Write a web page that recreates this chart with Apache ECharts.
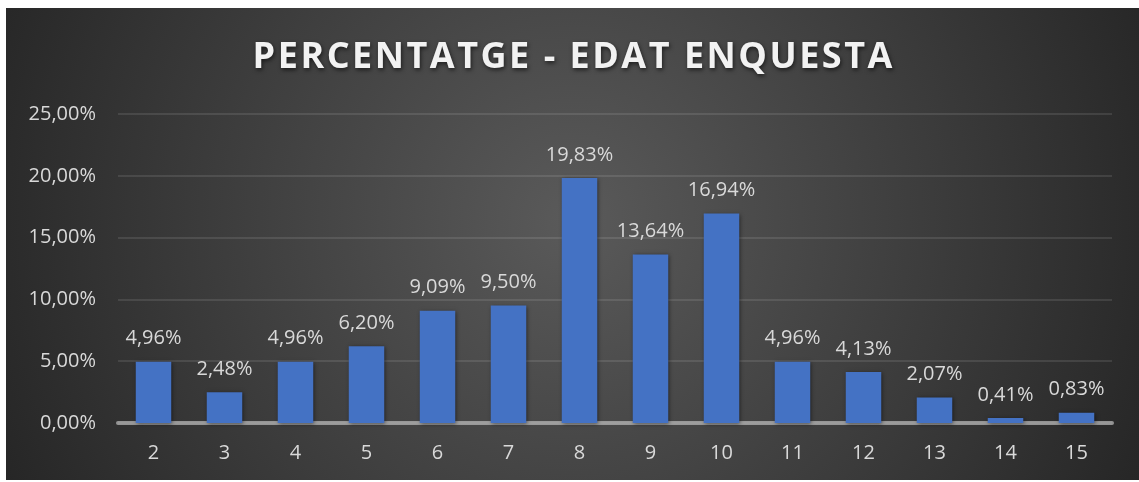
<!DOCTYPE html>
<html>
<head>
<meta charset="utf-8">
<script src="https://cdn.jsdelivr.net/npm/echarts@6/dist/echarts.min.js"></script>
<style>
  html, body { margin: 0; padding: 0; background: #fff; }
  #chart { position: absolute; left: 6px; top: 8px; width: 1133px; height: 472px; }
  #title {
    position: absolute; left: 6px; top: 37px; width: 1133px;
    text-align: center; font-family: 'Open Sans', sans-serif; font-weight: bold;
    font-size: 36px; line-height: 36px; letter-spacing: 2.5px; padding-left: 2.5px;
    box-sizing: border-box; color: #f2f2f2; text-shadow: 1px 2px 4px rgba(0,0,0,0.6);
    pointer-events: none;
  }
</style>
</head>
<body>
<div id="chart"></div>
<div id="title">PERCENTATGE - EDAT ENQUESTA</div>
<script>
const categories = ['2', '3', '4', '5', '6', '7', '8', '9', '10', '11', '12', '13', '14', '15'];
const percentValues = [4.96, 2.48, 4.96, 6.20, 9.09, 9.50, 19.83, 13.64, 16.94, 4.96, 4.13, 2.07, 0.41, 0.83];
const yTicks = [0, 5, 10, 15, 20, 25];

const fmt = (v) => v.toFixed(2).replace('.', ',') + '%';
const FONT = 'Open Sans';

const drawChart = (domElement) => {
  const chart = echarts.init(domElement);
  const option = {
    backgroundColor: {
      type: 'radial', x: 0.5, y: 0.45, r: 1.35,
      colorStops: [
        { offset: 0, color: '#5a5a5a' },
        { offset: 1, color: '#252525' },
      ],
    },
    grid: { left: 112, right: 27, top: 106, bottom: 57 },
    xAxis: {
      type: 'category',
      data: categories,
      axisTick: { show: false },
      axisLine: { lineStyle: { color: 'rgba(180,180,180,0.75)', width: 4 } },
      axisLabel: { color: '#d9d9d9', fontFamily: FONT, fontSize: 20, margin: 20 },
    },
    yAxis: {
      type: 'value',
      min: yTicks[0],
      max: yTicks[yTicks.length - 1],
      interval: 5,
      axisLine: { show: false },
      axisTick: { show: false },
      axisLabel: { color: '#d9d9d9', fontFamily: FONT, fontSize: 20, margin: 22, formatter: fmt },
      splitLine: { lineStyle: { color: 'rgba(255,255,255,0.1)', width: 2 } },
    },
    series: [{
      type: 'bar',
      data: percentValues,
      barWidth: '50%',
      itemStyle: {
        color: '#4472c4',
        shadowColor: 'rgba(0,0,0,0.5)',
        shadowBlur: 4,
        shadowOffsetX: 1,
        shadowOffsetY: 1,
      },
      label: {
        show: true,
        position: 'top',
        distance: 13,
        color: '#d9d9d9',
        fontFamily: FONT,
        fontSize: 20,
        formatter: (p) => fmt(p.value),
      },
    }],
  };
  chart.setOption(option);
};

drawChart(document.querySelector('#chart'));
</script>
</body>
</html>
